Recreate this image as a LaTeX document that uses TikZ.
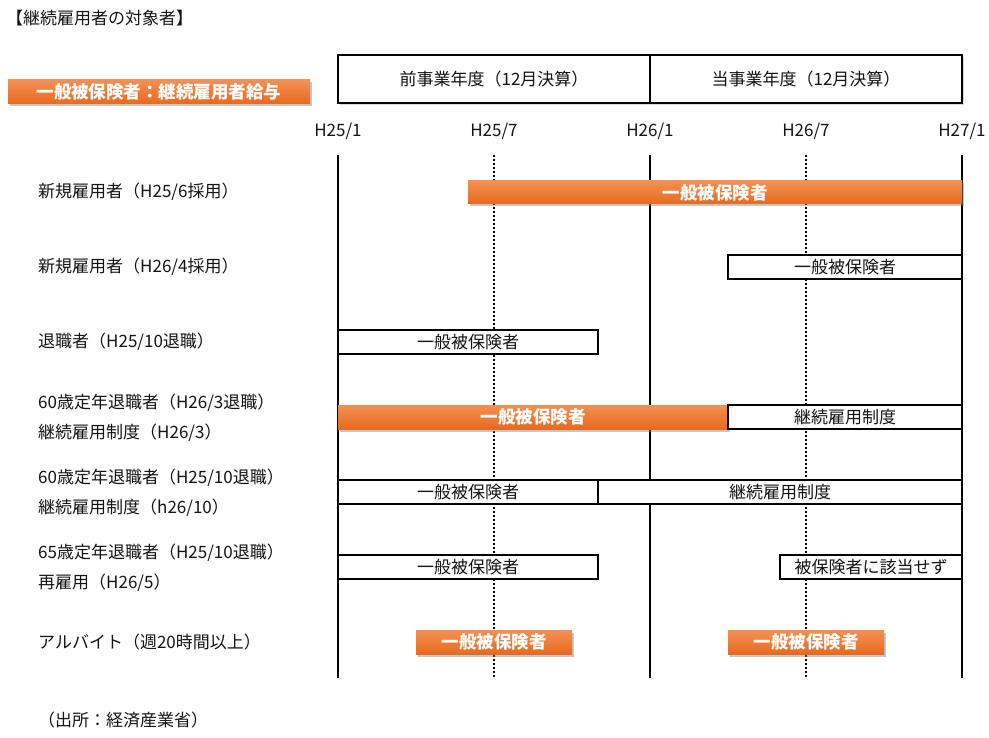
\documentclass[tikz,border=0pt]{standalone}
\usepackage{fontspec}
\setmainfont{Noto Sans CJK JP}
\usetikzlibrary{shadows}
\definecolor{txt}{RGB}{20,20,20}
\definecolor{orTop}{RGB}{244,144,84}
\definecolor{orBot}{RGB}{230,106,30}
\tikzset{
  lbl/.style={anchor=west,font=\fontsize{17}{19}\selectfont,text=txt,inner sep=0pt},
  datelbl/.style={font=\fontsize{17}{19}\selectfont,text=txt,inner sep=0pt},
  wbox/.style={draw=black,line width=1.6pt,fill=white,font=\fontsize{17}{19}\selectfont,text=txt},
  obar/.style={top color=orTop,bottom color=orBot,draw=none,
     drop shadow={shadow xshift=1.5pt,shadow yshift=-2.5pt,opacity=0.45},
     font=\fontsize{17.5}{19}\selectfont\bfseries,text=white},
  solidl/.style={line width=1.5pt,black},
  dotl/.style={line width=1.5pt,black,dash pattern=on 2pt off 2pt},
}
\begin{document}
\begin{tikzpicture}[x=1pt,y=-1pt]
\useasboundingbox (0,0) rectangle (989,738);
% title
\node[lbl] (title) at (6,18) {【継続雇用者の対象者】};
\node[obar,minimum width=302pt,minimum height=24pt,inner sep=0pt] (legend) at (159,92) {一般被保険者：継続雇用者給与};
% top boxes
\node[wbox,minimum width=312pt,minimum height=48pt,inner sep=0pt,
  drop shadow={shadow xshift=2pt,shadow yshift=-2.5pt,opacity=0.3}] (prev) at (494,79) {前事業年度（12月決算）};
\node[wbox,minimum width=312pt,minimum height=48pt,inner sep=0pt,
  drop shadow={shadow xshift=2pt,shadow yshift=-2.5pt,opacity=0.3}] (curr) at (806,79) {当事業年度（12月決算）};
% date labels
\node[datelbl] (d1) at (338,131) {H25/1};
\node[datelbl] (d2) at (494,131) {H25/7};
\node[datelbl] (d3) at (650,131) {H26/1};
\node[datelbl] (d4) at (806,131) {H26/7};
\node[datelbl] (d5) at (962,131) {H27/1};
% vertical lines
\foreach \n/\x in {a/338,c/650,e/962}{
  \coordinate (\n t) at (\x,155); \coordinate (\n b) at (\x,678);
  \draw[solidl] (\n t) -- (\n b);}
\foreach \n/\x in {b/494,d/806}{
  \coordinate (\n t) at (\x,155); \coordinate (\n b) at (\x,678);
  \draw[dotl] (\n t) -- (\n b);}
% row labels
\node[lbl] (r1) at (38,192) {新規雇用者（H25/6採用）};
\node[lbl] (r2) at (38,267) {新規雇用者（H26/4採用）};
\node[lbl] (r3) at (38,342) {退職者（H25/10退職）};
\node[lbl] (r4a) at (38,403) {60歳定年退職者（H26/3退職）};
\node[lbl] (r4b) at (38,433) {継続雇用制度（H26/3）};
\node[lbl] (r5a) at (38,478) {60歳定年退職者（H25/10退職）};
\node[lbl] (r5b) at (38,508) {継続雇用制度（h26/10）};
\node[lbl] (r6a) at (38,553) {65歳定年退職者（H25/10退職）};
\node[lbl] (r6b) at (38,583) {再雇用（H26/5）};
\node[lbl] (r7) at (38,642) {アルバイト（週20時間以上）};
% bars
\node[obar,minimum width=494pt,minimum height=23pt,inner sep=0pt] (b1) at (715,192.5) {一般被保険者};
\node[wbox,minimum width=234pt,minimum height=24pt,inner sep=0pt] (b2) at (845,267) {一般被保険者};
\node[wbox,minimum width=260pt,minimum height=24pt,inner sep=0pt] (b3) at (468,342) {一般被保険者};
\node[obar,minimum width=390pt,minimum height=24pt,inner sep=0pt] (b4a) at (533,417) {一般被保険者};
\node[wbox,minimum width=234pt,minimum height=24pt,inner sep=0pt] (b4b) at (845,417) {継続雇用制度};
\node[wbox,minimum width=260pt,minimum height=24pt,inner sep=0pt] (b5a) at (468,492) {一般被保険者};
\node[wbox,minimum width=364pt,minimum height=24pt,inner sep=0pt] (b5b) at (780,492) {継続雇用制度};
\node[wbox,minimum width=260pt,minimum height=24pt,inner sep=0pt] (b6a) at (468,567) {一般被保険者};
\node[wbox,minimum width=182pt,minimum height=24pt,inner sep=0pt] (b6b) at (871,567) {被保険者に該当せず};
\node[obar,minimum width=156pt,minimum height=24pt,inner sep=0pt] (b7a) at (494,642) {一般被保険者};
\node[obar,minimum width=156pt,minimum height=24pt,inner sep=0pt] (b7b) at (806,642) {一般被保険者};
% footer
\node[lbl] (src) at (38,720) {（出所：経済産業省）};
\end{tikzpicture}
\end{document}
